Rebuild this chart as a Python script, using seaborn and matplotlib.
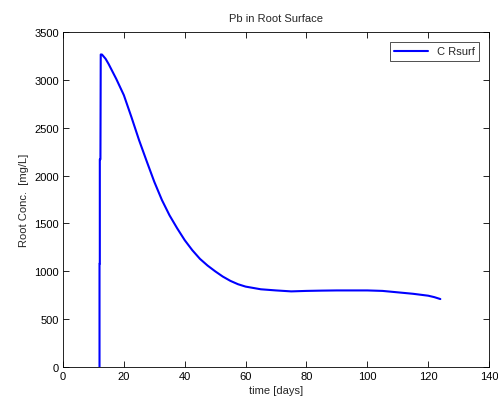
import matplotlib
matplotlib.use("Agg")
import matplotlib.pyplot as plt
import seaborn as sns
import pandas as pd

time_days = [12.0, 12.0, 12.1, 12.1, 12.3, 12.4, 12.8, 14.0, 15.0, 17.5, 20.0, 22.5, 25.0, 27.5, 30.0,
             32.5, 35.0, 37.5, 40.0, 42.5, 45.0, 47.5, 50.0, 52.5, 55.0, 57.5, 60.0, 65.0, 70.0,
             75.0, 80.0, 85.0, 90.0, 95.0, 100.0, 105.0, 110.0, 115.0, 120.0, 122.0, 124.0]
root_conc = [0, 1080, 1080, 2170, 2170, 3265, 3265, 3220, 3165, 3010, 2840, 2610, 2370, 2150, 1935,
             1745, 1585, 1450, 1325, 1220, 1130, 1060, 1000, 945, 900, 865, 840, 812, 800,
             790, 795, 798, 800, 800, 800, 795, 780, 765, 745, 730, 710]

sns.set_style("white")
plt.rcParams['font.family'] = ['Liberation Sans', 'DejaVu Sans']

df = pd.DataFrame({"time": time_days, "conc": root_conc, "series": "C Rsurf"})

fig = plt.figure(figsize=(4.98, 4.06), dpi=100)
ax = fig.add_axes([0.1265, 0.0936, 0.8555, 0.8251])
sns.lineplot(data=df, x="time", y="conc", hue="series", palette=["#0000ff"], sort=False,
             estimator=None, linewidth=1.5, ax=ax)

ax.set_xlim(0, 140)
ax.set_ylim(0, 3500)
ax.set_xticks(range(0, 141, 20))
ax.set_yticks(range(0, 3501, 500))
ax.tick_params(direction="in", length=4, width=0.6, labelsize=8, top=True, right=True,
               bottom=True, left=True, colors="black", pad=3)
for s in ax.spines.values():
    s.set_visible(True)
    s.set_color("black")
    s.set_linewidth(0.6)
ax.set_xlabel("time [days]", fontsize=8, labelpad=3)
ax.set_ylabel("Root Conc.  [mg/L]", fontsize=8, labelpad=4)
ax.set_title("Pb in Root Surface", fontsize=8, pad=8)
leg = ax.legend(loc="upper right", fontsize=8, frameon=True, fancybox=False,
                edgecolor="black", handlelength=3, borderaxespad=0.9)
leg.get_frame().set_linewidth(0.6)
leg.set_title(None)

fig.savefig("out.png", dpi=100, facecolor="white")
